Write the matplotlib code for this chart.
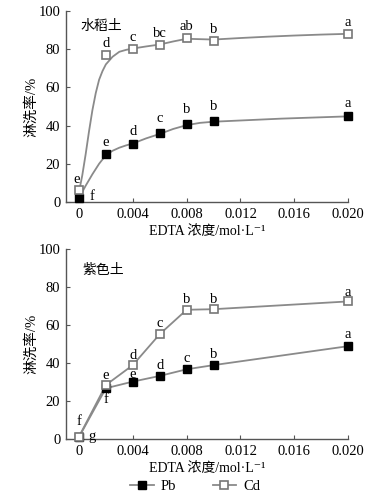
import matplotlib.pyplot as plt
from matplotlib.lines import Line2D

plt.rcParams['font.family'] = ['Liberation Serif', 'Noto Sans CJK SC', 'DejaVu Serif']
plt.rcParams['axes.unicode_minus'] = False

# EDTA 浓度 (mol/L)
edta = [0, 0.002, 0.004, 0.006, 0.008, 0.010, 0.020]

# 水稻土
rice_pb = [2.2, 25.2, 30.3, 36.0, 41.0, 42.4, 44.8]
rice_cd = [6.5, 77.0, 80.3, 82.4, 85.7, 84.5, 88.0]
rice_pb_sig = ['f', 'e', 'd', 'c', 'b', 'b', 'a']
rice_cd_sig = ['e', 'd', 'c', 'bc', 'ab', 'b', 'a']

# 水稻土 拟合曲线
rice_cd_cx = [0, 0.00025, 0.0005, 0.00075, 0.001, 0.00125, 0.0015, 0.00175, 0.002, 0.0025,
              0.003, 0.0035, 0.004, 0.005, 0.006, 0.007, 0.008, 0.009, 0.010, 0.012,
              0.014, 0.016, 0.018, 0.020]
rice_cd_cy = [5, 14, 25, 37, 48, 57, 64, 68.5, 72, 76,
              78.6, 79.6, 80.3, 81.4, 82.4, 84.0, 85.4, 85.2, 85.0, 85.8,
              86.5, 87.1, 87.6, 88.0]
rice_pb_cx = [0, 0.0005, 0.001, 0.0015, 0.002, 0.0025, 0.003, 0.0035, 0.004, 0.005,
              0.006, 0.007, 0.008, 0.009, 0.010, 0.015, 0.020]
rice_pb_cy = [2, 8.5, 14.5, 20, 24.5, 26.8, 28.4, 29.6, 30.6, 33.3,
              35.6, 38.2, 40.2, 41.4, 42.0, 43.6, 44.8]

# 紫色土
purple_pb = [1.0, 26.8, 30.3, 33.3, 36.8, 39.0, 49.0]
purple_cd = [1.2, 28.5, 39.0, 55.3, 68.2, 68.5, 72.6]
purple_pb_sig = ['g', 'f', 'e', 'd', 'c', 'b', 'a']
purple_cd_sig = ['f', 'e', 'd', 'c', 'b', 'b', 'a']

# 标注位置 (x, y)
rice_pb_lab = [(0.001, 3), (0.002, 31), (0.004, 36.7), (0.006, 43.6), (0.008, 48.4), (0.010, 50), (0.020, 51.4)]
rice_cd_lab = [(-0.0002, 11.7), (0.002, 82.8), (0.004, 86), (0.006, 88), (0.008, 92), (0.010, 90.5), (0.020, 94)]
purple_pb_lab = [(0.00095, 1.2), (0.002, 21), (0.004, 33.8), (0.006, 39), (0.008, 42.6), (0.010, 44.4), (0.020, 55)]
purple_cd_lab = [(0, 9.2), (0.002, 33.3), (0.004, 44.2), (0.006, 61.1), (0.008, 73.8), (0.010, 73.8), (0.020, 77.4)]

line_c = '#8a8a8a'
fig = plt.figure(figsize=(3.83, 4.95), dpi=100)
ax1 = fig.add_axes([0.172, 0.592, 0.737, 0.386])
ax2 = fig.add_axes([0.172, 0.113, 0.737, 0.383])


def style(ax, name, nx, ny):
    ax.set_xlim(-0.00097, 0.020)
    ax.set_ylim(0, 100)
    ax.set_xticks([0, 0.004, 0.008, 0.012, 0.016, 0.020])
    ax.set_xticklabels(['0', '0.004', '0.008', '0.012', '0.016', '0.020'])
    ax.set_yticks([0, 20, 40, 60, 80, 100])
    for s in ['top', 'right']:
        ax.spines[s].set_visible(False)
    for s in ['left', 'bottom']:
        ax.spines[s].set_color('#555555')
        ax.spines[s].set_linewidth(1.0)
    ax.tick_params(direction='in', length=3, color='#555555', labelsize=10.5, pad=4)
    ax.set_ylabel('淋洗率/%', fontsize=10.5, labelpad=0)
    ax.set_xlabel('EDTA 浓度/mol·L⁻¹', fontsize=10, labelpad=3)
    ax.text(nx, ny, name, transform=ax.transAxes, fontsize=10, family=['Noto Sans CJK SC'])


def draw(ax, pb, cd, pb_sig, cd_sig, pb_lab, cd_lab, pb_curve=None, cd_curve=None):
    if cd_curve:
        ax.plot(cd_curve[0], cd_curve[1], color=line_c, lw=1.3, zorder=2)
    else:
        ax.plot(edta, cd, color=line_c, lw=1.3, zorder=2)
    if pb_curve:
        ax.plot(pb_curve[0], pb_curve[1], color=line_c, lw=1.3, zorder=2)
    else:
        ax.plot(edta, pb, color=line_c, lw=1.3, zorder=2)
    ax.plot(edta, pb, ls='none', marker='s', ms=5.8, mfc='black', mec='black', zorder=3, clip_on=False)
    ax.plot(edta, cd, ls='none', marker='s', ms=5.8, mfc='white', mec='#777777', mew=1.2, zorder=4, clip_on=False)
    for (x, y), t in zip(pb_lab, pb_sig):
        ax.text(x, y, t, ha='center', va='center', fontsize=10.5)
    for (x, y), t in zip(cd_lab, cd_sig):
        ax.text(x, y, t, ha='center', va='center', fontsize=10.5)


draw(ax1, rice_pb, rice_cd, rice_pb_sig, rice_cd_sig, rice_pb_lab, rice_cd_lab,
     pb_curve=(rice_pb_cx, rice_pb_cy), cd_curve=(rice_cd_cx, rice_cd_cy))
style(ax1, '水稻土', 0.05, 0.9)

draw(ax2, purple_pb, purple_cd, purple_pb_sig, purple_cd_sig, purple_pb_lab, purple_cd_lab)
style(ax2, '紫色土', 0.06, 0.87)

handles = [Line2D([], [], color=line_c, lw=1.3, marker='s', ms=5.8, mfc='black', mec='black'),
           Line2D([], [], color=line_c, lw=1.3, marker='s', ms=5.8, mfc='white', mec='#777777', mew=1.2)]
fig.legend(handles, ['Pb', 'Cd'], loc='center', bbox_to_anchor=(0.51, 0.017), ncol=2,
           frameon=False, fontsize=10.5, handlelength=1.6, columnspacing=2.5, handletextpad=0.5)

fig.savefig('out.png', dpi=100)
